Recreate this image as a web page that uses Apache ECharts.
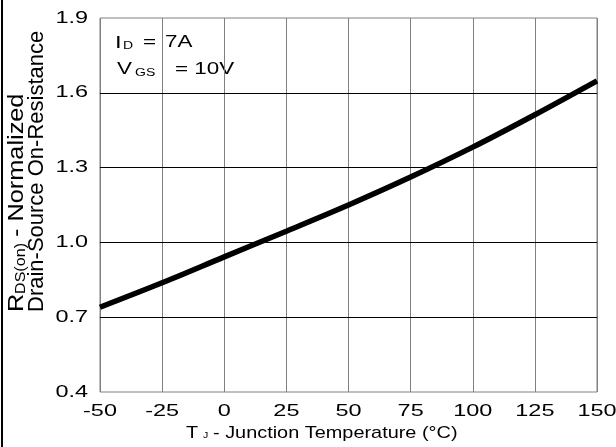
<!DOCTYPE html>
<html>
<head>
<meta charset="utf-8">
<script src="https://cdn.jsdelivr.net/npm/echarts@6/dist/echarts.min.js"></script>
<style>
html,body{margin:0;padding:0;background:#fff;}
#chart{width:616px;height:447px;}
</style>
</head>
<body>
<div id="chart"></div>
<script>
// ---- data ----
const temps = [-50, -25, 0, 25, 50, 75, 100, 125, 150];
const rdsNorm = [0.74, 0.838, 0.942, 1.045, 1.150, 1.262, 1.382, 1.512, 1.648];
const xTicks = [-50, -25, 0, 25, 50, 75, 100, 125, 150];
const yTicks = [0.4, 0.7, 1.0, 1.3, 1.6, 1.9];
const yInnerGrid = [0.7, 1.0, 1.3, 1.6];

// horizontal text stretch (the reference's lettering is wide); marker "sxNNN" in the font family
(function () {
  const proto = CanvasRenderingContext2D.prototype;
  const orig = proto.fillText;
  proto.fillText = function (text, x, y, maxW) {
    const m = /sx(\d+)/.exec(this.font || '');
    if (!m) {
      return maxW === undefined ? orig.call(this, text, x, y) : orig.call(this, text, x, y, maxW);
    }
    const s = parseInt(m[1], 10) / 100;
    this.save();
    this.translate(x, y);
    this.scale(s, 1);
    orig.call(this, text, 0, 0);
    this.restore();
  };
})();

const FF = "'Liberation Sans', Arial, sans-serif";
const TICKF = "'Liberation Sans', sx138";
const ANNF = "'Liberation Sans', sx140";
const TITF = "'Liberation Sans', sx117";
const YT1F = "'Liberation Sans', sx115";

const chart = echarts.init(document.getElementById('chart'), null, {renderer: 'canvas'});

const rot = Math.PI / 2;
const option = {
  animation: false,
  backgroundColor: '#fff',
  grid: {
    left: 100, right: 19, top: 18, bottom: 55,
    show: true, borderColor: '#808080', borderWidth: 1,
    containLabel: false, outerBoundsMode: 'none'
  },
  xAxis: {
    type: 'value', min: xTicks[0], max: xTicks[xTicks.length - 1], interval: 25,
    axisLine: {show: false},
    axisTick: {show: false},
    axisLabel: {color: '#000', fontSize: 17, fontFamily: TICKF, margin: 11},
    splitLine: {show: true, lineStyle: {color: '#808080', width: 1}}
  },
  yAxis: {
    type: 'value', min: yTicks[0], max: yTicks[yTicks.length - 1],
    axisLine: {show: false},
    axisTick: {show: false, customValues: yTicks},
    axisLabel: {
      color: '#000', fontSize: 17, fontFamily: TICKF, margin: 12,
      customValues: yTicks,
      formatter: v => Number(v).toFixed(1)
    },
    splitLine: {show: false}
  },
  series: [{
    type: 'line',
    data: temps.map((t, i) => [t, rdsNorm[i]]),
    smooth: 0.3,
    symbol: 'none',
    showSymbol: false,
    lineStyle: {color: '#000', width: 5.5},
    markLine: {
      silent: true,
      symbol: 'none',
      label: {show: false},
      lineStyle: {color: '#000', width: 1, type: 'solid'},
      data: yInnerGrid.map(v => ({yAxis: v}))
    }
  }],
  graphic: [
    {type: 'line', shape: {x1: 2, y1: 0, x2: 2, y2: 447}, style: {stroke: '#000', lineWidth: 2}},
    // y axis title line 1 (rotated pieces)
    {type: 'text', x: 17, y: 312, rotation: rot, style: {text: 'R', font: "22px " + YT1F, fill: '#000', align: 'left', verticalAlign: 'middle'}},
    {type: 'text', x: 21, y: 294, rotation: rot, style: {text: 'DS(on)', font: "14px " + YT1F, fill: '#000', align: 'left', verticalAlign: 'middle'}},
    {type: 'text', x: 17, y: 244, rotation: rot, style: {text: ' - Normalized', font: "22px " + YT1F, fill: '#000', align: 'left', verticalAlign: 'middle'}},
    // y axis title line 2
    {
      type: 'text', x: 37, y: 312, rotation: rot,
      style: {
        text: 'Drain-Source On-Resistance',
        font: "22px " + FF, fill: '#000', align: 'left', verticalAlign: 'middle'
      }
    },
    // annotation
    {type: 'text', x: 115, y: 43, style: {text: 'I', font: "17px " + ANNF, fill: '#000', align: 'left', verticalAlign: 'middle'}},
    {type: 'text', x: 123, y: 46, style: {text: 'D', font: "10px " + ANNF, fill: '#000', align: 'left', verticalAlign: 'middle'}},
    {type: 'text', x: 143, y: 43, style: {text: '=', font: "16px " + ANNF, fill: '#000', align: 'left', verticalAlign: 'middle'}},
    {type: 'text', x: 165, y: 43, style: {text: '7A', font: "16px " + ANNF, fill: '#000', align: 'left', verticalAlign: 'middle'}},
    {type: 'text', x: 117, y: 70, style: {text: 'V', font: "16px " + ANNF, fill: '#000', align: 'left', verticalAlign: 'middle'}},
    {type: 'text', x: 135, y: 73, style: {text: 'GS', font: "10px " + ANNF, fill: '#000', align: 'left', verticalAlign: 'middle'}},
    {type: 'text', x: 175, y: 70, style: {text: '= 10V', font: "16px " + ANNF, fill: '#000', align: 'left', verticalAlign: 'middle'}},
    // x axis title
    {type: 'text', x: 186, y: 433, style: {text: 'T', font: "17px " + TITF, fill: '#000', align: 'left', verticalAlign: 'middle'}},
    {type: 'text', x: 203, y: 436, style: {text: 'J', font: "9px " + TITF, fill: '#000', align: 'left', verticalAlign: 'middle'}},
    {type: 'text', x: 213, y: 433, style: {text: '- Junction Temperature (°C)', font: "17px " + TITF, fill: '#000', align: 'left', verticalAlign: 'middle'}}
  ]
};

chart.setOption(option);
</script>
</body>
</html>
